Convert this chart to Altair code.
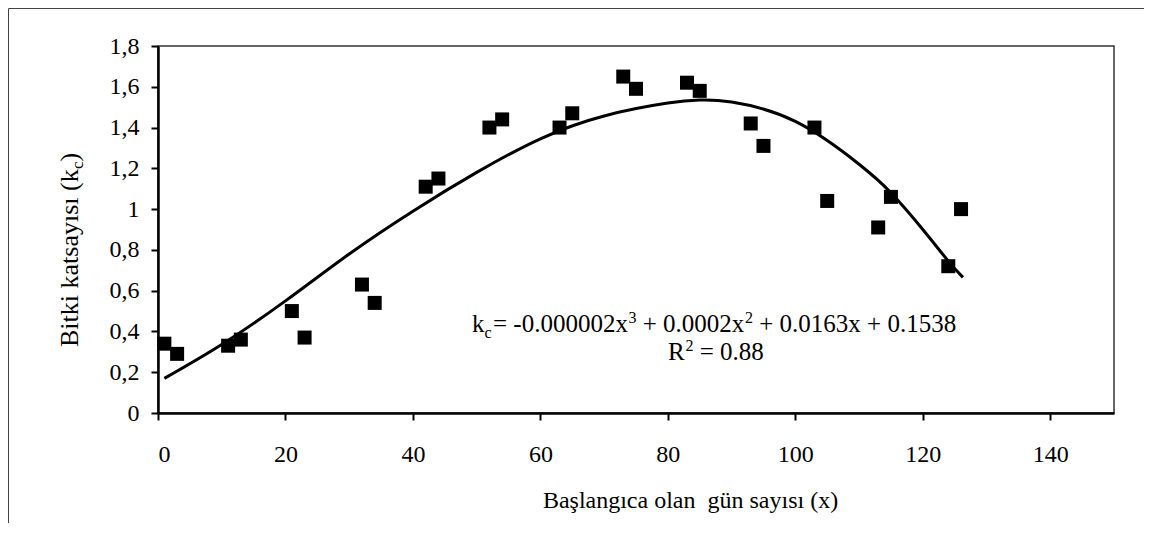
import altair as alt
import pandas as pd

# measured points
day = [1, 3, 11, 13, 21, 23, 32, 34, 42, 44, 52, 54, 63, 65, 73, 75, 83, 85,
       93, 95, 103, 105, 113, 115, 124, 126]
kc = [0.34, 0.29, 0.33, 0.36, 0.50, 0.37, 0.63, 0.54, 1.11, 1.15, 1.40, 1.44,
      1.40, 1.47, 1.65, 1.59, 1.62, 1.58, 1.42, 1.31, 1.40, 1.04, 0.91, 1.06,
      0.72, 1.00]

# fitted curve
curve_x = [1, 10, 20, 30, 40, 50, 60, 70, 80, 85, 90, 100, 110, 115, 120,
           124, 126.3]
curve_y = [0.17, 0.336, 0.55, 0.78, 0.99, 1.18, 1.345, 1.457, 1.52, 1.535,
           1.525, 1.43, 1.22, 1.08, 0.90, 0.745, 0.665]

x_ticks = [0, 20, 40, 60, 80, 100, 120, 140]
y_ticks = [0, 0.2, 0.4, 0.6, 0.8, 1.0, 1.2, 1.4, 1.6, 1.8]

NB = "\u00a0"
x_title = "Başlangıca olan" + NB + " gün sayısı (x)"
eq_parts = ["k", "c", "=" + NB + "-0.000002x", "3", "+" + NB + "0.0002x", "2",
            "+ 0.0163x + 0.1538"]
r2_parts = ["R", "2", "=" + NB + "0.88"]
ytitle_main = "Bitki katsayısı (k"
ytitle_sub = "c"
ytitle_end = ")"

FONT = "'Liberation Serif', 'Times New Roman', Times, serif"

pts = pd.DataFrame({"day": day, "kc": kc})
crv = pd.DataFrame({"day": curve_x, "kc": curve_y})
one = pd.DataFrame({"a": [0]})

xs = alt.Scale(domain=[0, 150], nice=False, zero=False)
ys = alt.Scale(domain=[0, 1.8], nice=False)

points = alt.Chart(pts).mark_square(size=196, color="black", opacity=1).encode(
    x=alt.X("day:Q", scale=xs,
            axis=alt.Axis(values=x_ticks, title=x_title, titleX=532, titleY=94,
                          titleAlign="center", titleBaseline="alphabetic",
                          titleAngle=0, labelPadding=22, format="d")),
    y=alt.Y("kc:Q", scale=ys,
            axis=alt.Axis(values=y_ticks, title=None, labelPadding=12,
                          labelExpr="replace(format(datum.value, '~g'), '.', ',')")),
)

line = alt.Chart(crv).mark_line(color="black", strokeWidth=3,
                                interpolate="natural").encode(
    x=alt.X("day:Q", scale=xs), y=alt.Y("kc:Q", scale=ys)
)

def txt(s, x, y, size=25, align="left", angle=0):
    return alt.Chart(one).mark_text(text=s, font=FONT, fontSize=size, align=align,
                                    baseline="alphabetic", angle=angle,
                                    color="black").encode(
        x=alt.value(x), y=alt.value(y))

BASE = 286
SUPY = BASE - 9
SP = 6.25
eq = [
    txt(eq_parts[0], 314, BASE),
    txt(eq_parts[1], 326.5, BASE + 6, size=16),
    txt(eq_parts[2], 335, BASE),
    txt(eq_parts[3], 470.5, SUPY, size=16),
    txt(eq_parts[4], 478.5 + SP, BASE),
    txt(eq_parts[5], 587, SUPY, size=16),
    txt(eq_parts[6], 595 + SP, BASE),
]
RB = 314
r2 = [
    txt(r2_parts[0], 510, RB),
    txt(r2_parts[1], 527.5, RB - 9, size=16),
    txt(r2_parts[2], 535.5 + SP, RB),
]

yt1 = txt(ytitle_main, -80, 301, size=26, angle=270)
yt2 = txt(ytitle_sub, -75, 123, size=17, angle=270)
yt3 = txt(ytitle_end, -80, 115.5, size=26, angle=270)

frame_left = alt.Chart(one).mark_rule(color="#444", strokeWidth=1).encode(
    x=alt.value(-149.5), y=alt.value(-37.5), y2=alt.value(480))
frame_top = alt.Chart(one).mark_rule(color="#444", strokeWidth=1).encode(
    x=alt.value(-149.5), x2=alt.value(1000), y=alt.value(-37.5))

chart = alt.layer(points, line, *eq, *r2, yt1, yt2, yt3,
                  frame_left, frame_top).properties(
    width=956, height=367,
    autosize=alt.AutoSizeParams(type="none"),
    padding={"left": 150, "top": 38, "right": 30, "bottom": 110},
    background="white",
).configure_view(
    stroke="#333", strokeWidth=1.5
).configure_axis(
    grid=False, domainColor="black", domainWidth=2.5, tickColor="black",
    tickWidth=2, tickSize=7, labelFont=FONT, labelFontSize=24,
    labelColor="black", titleFont=FONT, titleFontSize=24,
    titleFontWeight="normal", titleColor="black"
)

chart.save("out.html", embed_options={"renderer": "svg", "actions": False})
